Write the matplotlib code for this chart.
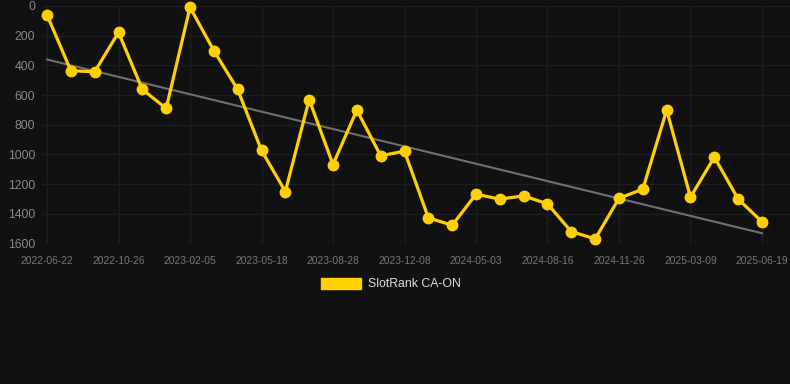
import matplotlib
matplotlib.use("Agg")
import matplotlib.pyplot as plt
import numpy as np
from matplotlib.patches import Patch

# rank per snapshot (lower is better, axis inverted)
ranks = [60, 436, 443, 178, 562, 690, 9, 301, 562, 973,
         1250, 630, 1068, 701, 1009, 978, 1427, 1477, 1268, 1301,
         1279, 1333, 1520, 1569, 1295, 1234, 701, 1288, 1018, 1301,
         1454]
tick_labels = ["2022-06-22", "2022-10-26", "2023-02-05", "2023-05-18",
               "2023-08-28", "2023-12-08", "2024-05-03", "2024-08-16",
               "2024-11-26", "2025-03-09", "2025-06-19"]
series_name = "SlotRank CA-ON"

bg = "#111111"
gold = "#FFD000"
plt.rcParams['font.family'] = ['Liberation Sans', 'DejaVu Sans']

fig = plt.figure(figsize=(7.9, 3.84), dpi=100, facecolor=bg)
ax = fig.add_axes([42/790, (384-243.5)/384, 748/790, 237.5/384], facecolor=bg)

x = np.arange(len(ranks))
y = np.array(ranks)

# linear trend
k, b = np.polyfit(x, y, 1)
ax.plot(x, k*x + b, color="#707070", lw=1.5, zorder=2)

ax.plot(x, y, color=gold, lw=2.3, marker="o", ms=7.5, mfc=gold, mec=gold,
        zorder=3, clip_on=False)

ax.set_xlim(-0.21, 30 + 28/23.83)
ax.set_ylim(1600, 0)
ax.set_yticks(range(0, 1601, 200))
ax.set_xticks(x[::3])
ax.set_xticklabels(tick_labels)

ax.grid(True, color="#1e1e1e", lw=1.0)
ax.set_axisbelow(True)
for s in ax.spines.values():
    s.set_visible(False)
ax.tick_params(axis="y", colors="#888888", labelsize=8.8, length=0, pad=5)
ax.tick_params(axis="x", colors="#777777", labelsize=7.4, length=0, pad=9)

fig.legend(handles=[Patch(facecolor=gold, edgecolor=gold, label=series_name)],
           loc="center", bbox_to_anchor=(0.495, 1 - 284/384), frameon=False,
           fontsize=8.8, labelcolor="#dddddd", handlelength=3.3,
           handleheight=1.0, handletextpad=0.6)

fig.savefig("out.png", dpi=100, facecolor=bg)
